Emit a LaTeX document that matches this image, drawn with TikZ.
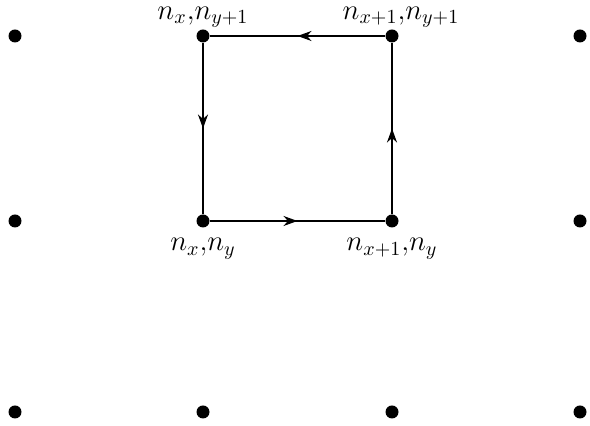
\documentclass[tikz,border=0pt]{standalone}
\usepackage{amsmath}
\usetikzlibrary{positioning,arrows.meta,decorations.markings}

\tikzset{
  site/.style={circle, fill=black, inner sep=0pt, minimum size=6.5pt},
  link/.style={line width=1pt, postaction={decorate},
    decoration={markings, mark=at position 0.5 with {\arrow{Stealth[length=7pt,width=5pt]}}}},
  lab/.style={font=\Large, inner sep=0pt}
}

\begin{document}
\begin{tikzpicture}[x=0.5pt, y=-0.5pt]
    \useasboundingbox (0,0) rectangle (590,426);

    % lattice sites
    \foreach \i/\x in {1/15, 2/203, 3/392, 4/580} {
        \foreach \j/\y in {1/36, 2/221, 3/412} {
            \node[site] (d\i\j) at (\x,\y) {};
        }
    }

    % plaquette
    \draw[link] (d21) -- (d22);
    \draw[link] (d22) -- (d32);
    \draw[link] (d32) -- (d31);
    \draw[link] (d31) -- (d21);

    \node[lab, above=0.5pt of d21] (l21) {$n_x{,}n_{y+1}$};
    \node[lab, above=0.5pt of d31, xshift=4.5pt] (l31) {$n_{x+1}{,}n_{y+1}$};
    \node[lab, below=5pt of d22] (l22) {$n_x{,}n_y$};
    \node[lab, below=5pt of d32] (l32) {$n_{x+1}{,}n_y$};
\end{tikzpicture}
\end{document}
